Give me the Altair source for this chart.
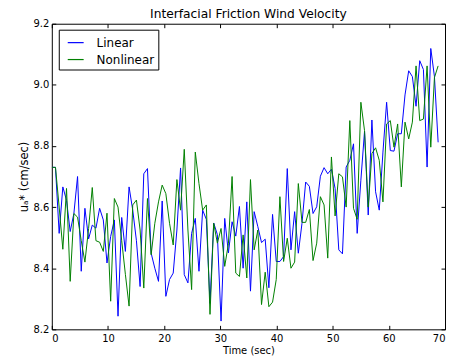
import altair as alt
import pandas as pd

# ---- data ----
time_step = 0.655  # seconds between samples
linear = [
    8.73, 8.73, 8.514, 8.666, 8.622, 8.520, 8.579, 8.70, 8.39, 8.596,
    8.496, 8.541, 8.531, 8.596, 8.558, 8.417, 8.504, 8.558, 8.243, 8.566,
    8.455, 8.666, 8.59, 8.49, 8.34, 8.709, 8.726, 8.449, 8.40, 8.357,
    8.62, 8.308, 8.363, 8.384, 8.525, 8.728, 8.379, 8.352, 8.514, 8.563,
    8.39, 8.59, 8.56, 8.285, 8.548, 8.51, 8.227, 8.563, 8.45, 8.552,
    8.505, 8.602, 8.40, 8.617, 8.325, 8.585, 8.536, 8.484, 8.495, 8.336,
    8.576, 8.422, 8.422, 8.438, 8.726, 8.46, 8.585, 8.449, 8.547, 8.682,
    8.668, 8.579, 8.601, 8.701, 8.729, 8.709, 8.724, 8.661, 8.46, 8.447,
    8.731, 8.753, 8.807, 8.514, 8.688, 8.848, 8.574, 8.885, 8.65, 8.59,
    8.78, 8.943, 8.785, 8.783, 8.84, 8.84, 8.967, 9.046, 9.027, 8.93,
    9.079, 9.05, 8.731, 9.119, 9.027, 8.812,
]
nonlinear = [
    8.73, 8.73, 8.60, 8.462, 8.661, 8.357, 8.579, 8.567, 8.49, 8.42,
    8.53, 8.664, 8.49, 8.485, 8.455, 8.58, 8.292, 8.628, 8.60, 8.49,
    8.38, 8.276, 8.607, 8.623, 8.525, 8.335, 8.628, 8.444, 8.547, 8.617,
    8.672, 8.644, 8.547, 8.476, 8.69, 8.59, 8.789, 8.525, 8.33, 8.78,
    8.677, 8.59, 8.607, 8.249, 8.547, 8.482, 8.53, 8.406, 8.48, 8.70,
    8.384, 8.373, 8.509, 8.368, 8.69, 8.46, 8.525, 8.281, 8.387, 8.274,
    8.289, 8.363, 8.634, 8.422, 8.498, 8.40, 8.42, 8.677, 8.55, 8.55,
    8.592, 8.425, 8.482, 8.634, 8.607, 8.433, 8.764, 8.571, 8.709, 8.699,
    8.60, 8.883, 8.596, 8.56, 8.943, 8.85, 8.60, 8.775, 8.794, 8.753,
    8.617, 8.872, 8.883, 8.796, 8.872, 8.666, 8.878, 8.823, 8.878, 9.062,
    8.883, 8.888, 9.062, 8.796, 9.024, 9.062,
]
series_names = ["Linear", "Nonlinear"]
series_colors = ["#0000ff", "#008000"]
x_ticks = [0, 10, 20, 30, 40, 50, 60, 70]
y_ticks = [8.2, 8.4, 8.6, 8.8, 9.0, 9.2]

n = len(linear)
times = [round(i * time_step, 3) for i in range(n)]
df = pd.DataFrame({
    "time": times + times,
    "value": linear + nonlinear,
    "series": [series_names[0]] * n + [series_names[1]] * n,
})

FONT = "DejaVu Sans"
xs = alt.Scale(domain=[0, 70], nice=False, zero=False)
ys = alt.Scale(domain=[8.2, 9.2], nice=False, zero=False)

def tick_axis(orient):
    return alt.Axis(orient=orient, values=x_ticks if orient in ("top", "bottom") else y_ticks,
                    labels=False, domain=False, grid=False, tickSize=4, offset=-4,
                    tickColor="black", tickWidth=1, title=None)

main = alt.Chart(df).mark_line(strokeWidth=1, clip=True).encode(
    x=alt.X("time:Q", scale=xs, axis=alt.Axis(
        orient="bottom", values=x_ticks, tickSize=0, domain=False, grid=False,
        labelPadding=4, labelFontSize=10, labelFont=FONT, labelColor="black",
        title="Time (sec)", titleFontSize=10, titleFont=FONT, titleFontWeight="normal",
        titleColor="black", titlePadding=2)),
    y=alt.Y("value:Q", scale=ys, axis=alt.Axis(
        orient="left", values=y_ticks, format=".1f", tickSize=0, domain=False, grid=False,
        labelPadding=3, labelFontSize=10, labelFont=FONT, labelColor="black",
        title="u\u2090* (cm/sec)", titleFontSize=11.5, titleFont=FONT, titleFontWeight="normal",
        titleColor="black", titlePadding=4)),
    color=alt.Color("series:N", scale=alt.Scale(domain=series_names, range=series_colors),
                    legend=alt.Legend(
                        title=None, orient="none", legendX=7, legendY=6,
                        symbolType="stroke", symbolSize=256, symbolStrokeWidth=1.2,
                        labelFontSize=12, labelFont=FONT, labelColor="black",
                        labelOffset=12, rowPadding=2, padding=4, symbolOffset=4,
                        strokeColor="black", fillColor="white", cornerRadius=0)),
)

ticks_bl = alt.Chart(df).mark_line(opacity=0).encode(
    x=alt.X("time:Q", scale=xs, axis=tick_axis("bottom")),
    y=alt.Y("value:Q", scale=ys, axis=tick_axis("left")),
    detail="series:N",
)
ticks_tr = alt.Chart(df).mark_line(opacity=0).encode(
    x=alt.X("time:Q", scale=xs, axis=tick_axis("top")),
    y=alt.Y("value:Q", scale=ys, axis=tick_axis("right")),
    detail="series:N",
)

chart = alt.layer(main, ticks_bl, ticks_tr).resolve_axis(
    x="independent", y="independent"
).properties(
    width=395, height=307,
    title=alt.TitleParams("Interfacial Friction Wind Velocity", fontSize=12.3,
                          fontWeight="normal", font=FONT, color="black",
                          anchor="middle", offset=5, dy=7),
    autosize=alt.AutoSizeParams(type="none"),
    padding={"left": 44, "top": 15, "right": 2, "bottom": 26},
).configure_view(stroke="black", strokeWidth=1)

chart.save("out.html", embed_options={"renderer": "svg", "actions": False})
